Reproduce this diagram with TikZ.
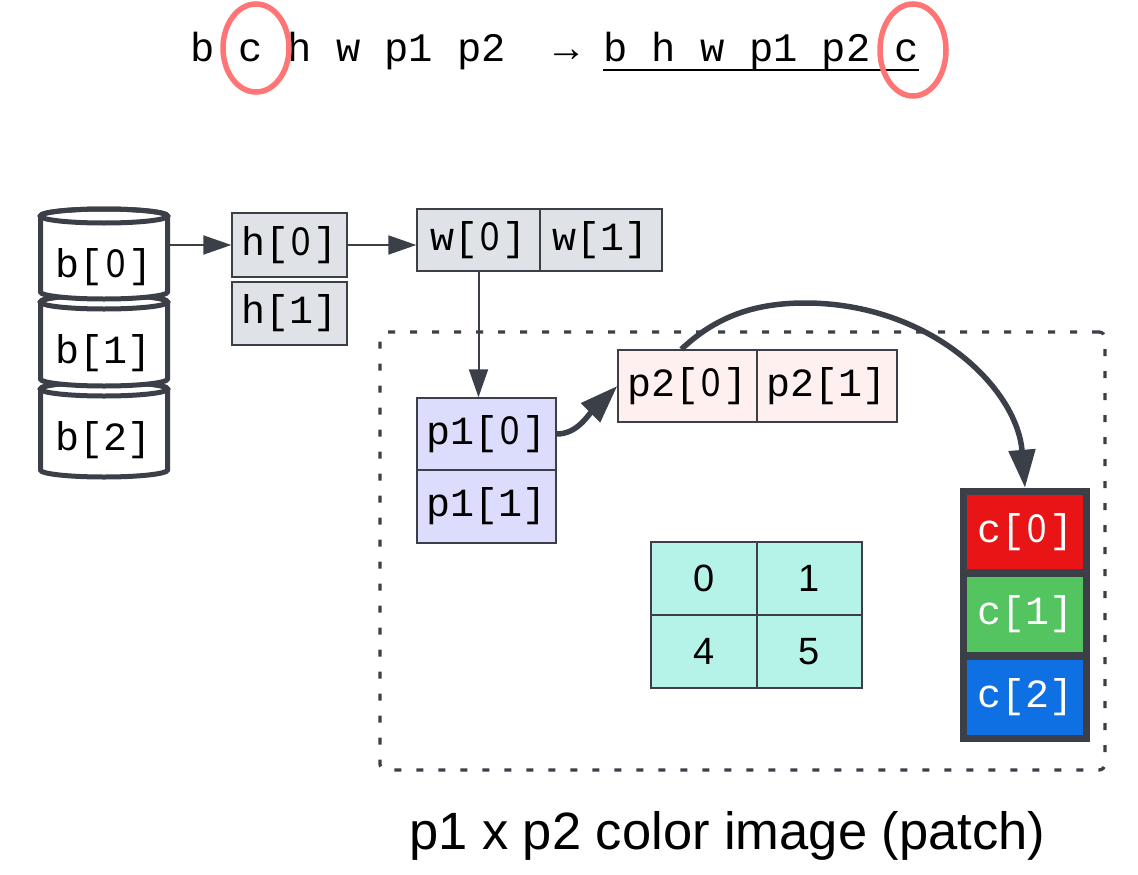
\documentclass[tikz,border=0pt]{standalone}
\usepackage{fontspec}
\setmainfont{Liberation Sans}
\newfontfamily\monofont{Liberation Mono}
\newfontfamily\zsans{Liberation Sans}
\newcommand\zz{\makebox[0.6em]{\scalebox{0.86}[1]{\zsans 0}}}
\usetikzlibrary{arrows.meta,calc}
\definecolor{dk}{HTML}{3B4048}
\definecolor{grayf}{HTML}{DFE2E7}
\definecolor{lav}{HTML}{DCDCFC}
\definecolor{pinkf}{HTML}{FEF0EE}
\definecolor{tealf}{HTML}{B5F3E9}
\definecolor{redc}{HTML}{E81416}
\definecolor{greenc}{HTML}{53C45F}
\definecolor{bluec}{HTML}{0F70E4}
\definecolor{ringc}{HTML}{FF7474}
\begin{document}
\begin{tikzpicture}[x=1pt,y=-1pt,
  cell/.style={draw=dk, line width=1.4pt, inner sep=0pt, font=\monofont\fontsize{40}{40}\selectfont},
  numcell/.style={draw=dk, line width=1.4pt, inner sep=0pt, fill=tealf, font=\fontsize{38}{38}\selectfont},
  ccell/.style={inner sep=0pt, text=white, minimum width=116pt, font=\monofont\fontsize{40}{40}\selectfont},
  cyl/.style={draw=dk, line width=5pt, fill=white},
  cyltext/.style={inner sep=0pt, font=\monofont\fontsize{40}{40}\selectfont},
  topfont/.style={inner sep=0pt, anchor=base west, font=\monofont\fontsize{40.5}{40}\selectfont},
  thinarrow/.style={draw=dk, line width=2pt, -{Triangle[length=28pt,width=19pt]}},
  thickarrow/.style={draw=dk, line width=5.5pt, -{Triangle[length=38pt,width=26pt]}},
  ring/.style={draw=ringc, line width=5.5pt},
]
\useasboundingbox (0,0) rectangle (1138,875);

% top line
\node[topfont] (tl) at (190,62) {b c h w p1 p2~~→};
\node[topfont] (tr) at (603,62) {b h w p1 p2 c};
\draw[line width=2pt] ([yshift=-8pt]tr.base west) -- ([yshift=-8pt]tr.base east);
\draw[ring] (256,48) ellipse[x radius=33, y radius=44];
\draw[ring] (913,50) ellipse[x radius=33, y radius=46];

% dashed patch frame
\node[draw=dk, line width=3.3pt, dash pattern=on 7pt off 15pt, rounded corners=6pt,
  minimum width=725pt, minimum height=438pt, inner sep=0pt] (patch) at (742.5,551) {};

% cylinders (drawn bottom first)
\foreach \yt/\yb in {389/470, 302/379, 216/292}{
  \path[cyl] (40.5,\yt) -- (40.5,\yb) arc[start angle=180, end angle=0, x radius=63.5, y radius=7]
    -- (167.5,\yt) arc[start angle=0, end angle=-180, x radius=63.5, y radius=7] -- cycle;
  \draw[dk, line width=5pt] (104,\yt) ellipse[x radius=63.5, y radius=7];
}
\node[cyltext] (b0) at (104,267) {b[\zz]};
\node[cyltext] (b1) at (104,353) {b[1]};
\node[cyltext] (b2) at (104,440) {b[2]};
\coordinate (b0e) at (170,245);

% h boxes
\node[cell, fill=grayf, minimum width=115pt, minimum height=64pt] (h0) at (289.5,245) {h[\zz]};
\node[cell, fill=grayf, minimum width=115pt, minimum height=63pt] (h1) at (289.5,313.5) {h[1]};
% w boxes
\node[cell, fill=grayf, minimum width=123pt, minimum height=62pt] (w0) at (478.5,240) {w[\zz]};
\node[cell, fill=grayf, minimum width=122pt, minimum height=62pt] (w1) at (601,240) {w[1]};
% p1 boxes
\node[cell, fill=lav, minimum width=139pt, minimum height=72pt] (p1a) at (486.5,434) {p1[\zz]};
\node[cell, fill=lav, minimum width=139pt, minimum height=73pt] (p1b) at (486.5,506.5) {p1[1]};
% p2 boxes
\node[cell, fill=pinkf, minimum width=139pt, minimum height=72pt] (p2a) at (687.5,386) {p2[\zz]};
\node[cell, fill=pinkf, minimum width=140pt, minimum height=72pt] (p2b) at (827,386) {p2[1]};

% table
\node[numcell, minimum width=106pt, minimum height=73pt] (t0) at (704,578.5) {0};
\node[numcell, minimum width=105pt, minimum height=73pt] (t1) at (809.5,578.5) {1};
\node[numcell, minimum width=106pt, minimum height=73pt] (t4) at (704,651.5) {4};
\node[numcell, minimum width=105pt, minimum height=73pt] (t5) at (809.5,651.5) {5};

% color column
\node[fill=dk, inner sep=0pt, minimum width=130pt, minimum height=254pt] (cframe) at (1025,615) {};
\node[ccell, fill=redc, minimum height=74pt] (c0) at (1025,532) {c[\zz]};
\node[ccell, fill=greenc, minimum height=75pt] (c1) at (1025,614.5) {c[1]};
\node[ccell, fill=bluec, minimum height=75pt] (c2) at (1025,697.5) {c[2]};

% connectors
\draw[thinarrow] (b0e) -- (h0.west);
\draw[thinarrow] (h0.east) -- (h0.east -| w0.west);
\draw[thinarrow] (w0.south) -- (w0.south |- p1a.north);
\draw[thickarrow] (p1a.east) .. controls +(20,0) and +(-30,30) .. (p2a.west);
\coordinate (apex) at (805,303);
\draw[thickarrow] ($(p2a.north west)+(64,0)$) .. controls +(32,-30) and +(-55,0) .. (apex)
  .. controls +(125,0) and +(-8,-100) .. (cframe.north);

% caption
\node[inner sep=0pt, anchor=base west, font=\fontsize{52.5}{52}\selectfont] (lbl) at (409,849) {p1 x p2 color image (patch)};
\end{tikzpicture}
\end{document}
